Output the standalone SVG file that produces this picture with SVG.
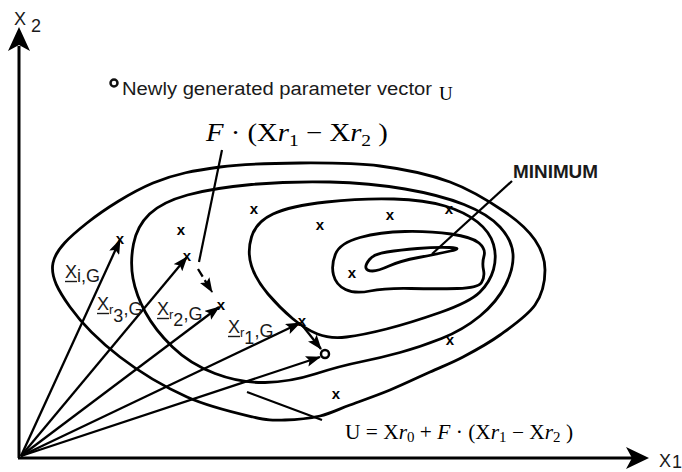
<svg xmlns="http://www.w3.org/2000/svg" width="682" height="472" viewBox="0 0 682 472">
<style>
.c{fill:none;stroke:#000;stroke-width:2.8;stroke-linejoin:round}
.a{fill:none;stroke:#000;stroke-width:2.3}
.ln{fill:none;stroke:#000;stroke-width:2.2}
.ax{fill:none;stroke:#000;stroke-width:3}
.hd{fill:#000}
.lbl{font-family:"Liberation Sans",Arial,sans-serif;font-size:18px;fill:#1a1a1a}
.ul{stroke:#1a1a1a;stroke-width:1.4}
.xm{font-family:"Liberation Sans",Arial,sans-serif;font-size:15px;font-weight:bold;fill:#000;text-anchor:middle}
.math{font-family:"Liberation Serif","Times New Roman",serif;fill:#000}
</style>
<defs>
<marker id="ah" markerWidth="15" markerHeight="11" refX="14" refY="5.5" orient="auto" markerUnits="userSpaceOnUse"><path d="M0,0 L15,5.5 L0,11 L3,5.5 z" fill="#000"/></marker>
</defs>

<g id="axes">
<path class="ax" d="M19,458 V46"/>
<polygon class="hd" points="19,27 8,51 19,45 30,51"/>
<path class="ax" d="M18,458 H632"/>
<polygon class="hd" points="649,458 626,447 632,458 626,469"/>
<text class="lbl" x="14" y="25" fill="#333">X</text>
<text class="lbl" x="31" y="32" font-size="17" fill="#333">2</text>
<text class="lbl" x="659" y="467" font-size="17" fill="#333">X</text>
<text class="lbl" x="672" y="468" font-size="12" fill="#333">1</text>
</g>

<g id="contours">
<path id="c5" class="c" d="M53,263 C55.8,249 70.3,236.3 87,223 S130.8,192.3 153,183 S195.5,170.3 220,167 S273.3,163.2 300,163 S355,162.8 380,166 S429.2,174.3 450,182 S490.8,202.3 505,212 S528.3,230.3 535,240 S545,259.2 545,270 S542.5,294.2 535,305 S512,326.3 500,335 S474.7,350.8 463,357 S442.2,366.5 430,372 S403.3,384.5 390,390 S361.7,400.7 350,405 S330.8,413.5 320,416 S296.2,419.8 285,420 S269.3,420.8 253,417 S209.2,407 187,397 S139.5,372 120,357 S81.2,322.7 70,307 S50.2,277 53,263 Z"/>
<path id="c4" class="c" d="M133,278.5 Q130,262 133.5,244 Q137,226 149.5,214 Q162,202 187.5,195 Q213,188 251.5,184.5 Q290,181 330,182 Q370,183 405,189 Q440,195 464,204.5 Q488,214 500,227 Q512,240 513,254 Q514,268 505.5,285 Q497,302 480,316 Q463,330 441.5,338.5 Q420,347 400,352.5 Q380,358 360,362 Q340,366 315,374 Q290,382 265,382.5 Q240,383 215,373.5 Q190,364 172.5,347 Q155,330 145.5,312.5 Q136,295 133,278.5 Z"/>
<path id="c3" class="c" d="M251.5,266 Q247,252 251.5,237 Q256,222 273,214 Q290,206 326.5,202 Q363,198 394,199 Q425,200 445,206 Q465,212 477.5,222 Q490,232 493.5,244.5 Q497,257 493.5,269.5 Q490,282 480,292 Q470,302 440,312.5 Q410,323 386.5,329 Q363,335 346.5,337 Q330,339 317.5,334 Q305,329 292.5,318.5 Q280,308 268,294 Q256,280 251.5,266 Z"/>
<path id="c2" class="c" d="M333.5,275 Q331,265 335.5,254 Q340,243 360,237.5 Q380,232 405,231.5 Q430,231 451,234 Q472,237 479,243 Q486,249 484,256 Q482,263 483.5,270 Q485,277 481.5,282.5 Q478,288 457.5,288.5 Q437,289 411,288.5 Q385,288 370,291 Q355,294 345.5,289.5 Q336,285 333.5,275 Z"/>
<path id="c1" class="c" d="M366,268 Q365,265 369.5,259.5 Q374,254 387,252 Q400,250 417.5,248.5 Q435,247 449.5,247.5 Q464,248 450.5,251 Q437,254 418.5,257.5 Q400,261 389,266 Q378,271 372.5,271 Q367,271 366,268 Z"/>
</g>

<g id="connectors">
<path class="a" d="M21,456 L120,240" marker-end="url(#ah)"/>
<path class="a" d="M21,456 L187,257" marker-end="url(#ah)"/>
<path class="a" d="M21,456 L219,307" marker-end="url(#ah)"/>
<path class="a" d="M21,456 L300,323" marker-end="url(#ah)"/>
<path class="a" d="M21,456 L320,357" marker-end="url(#ah)"/>
<path class="a" d="M302,325 L321,349" marker-end="url(#ah)"/>
<path class="a" d="M198,269 L212,292" stroke-dasharray="9,4" marker-end="url(#ah)"/>
<path class="ln" d="M222,150 L199,262"/>
<path class="ln" d="M512,181 L432,254"/>
<path class="ln" d="M247,392 L322,420"/>
</g>

<g id="points">
<text class="xm" x="120" y="244">x</text>
<text class="xm" x="187" y="261">x</text>
<text class="xm" x="221" y="310">x</text>
<text class="xm" x="302" y="326">x</text>
<circle cx="325" cy="354" r="4" fill="#fff" stroke="#000" stroke-width="2.5"/>
<text class="xm" x="181" y="235">x</text>
<text class="xm" x="254" y="214">x</text>
<text class="xm" x="320" y="230">x</text>
<text class="xm" x="390" y="220">x</text>
<text class="xm" x="449" y="214" font-size="11">x</text>
<text class="xm" x="352" y="278">x</text>
<text class="xm" x="450" y="345">x</text>
<text class="xm" x="336" y="399">x</text>
</g>

<g id="labels">
<text class="lbl" x="65" y="278">X<tspan dy="4">i,G</tspan></text>
<line class="ul" x1="65" y1="281.5" x2="77" y2="281.5"/>
<text class="lbl" x="97" y="310">X<tspan dy="4" font-size="13">r</tspan><tspan dy="8">3</tspan><tspan dy="-7">,G</tspan></text>
<line class="ul" x1="97" y1="313.5" x2="109" y2="313.5"/>
<text class="lbl" x="157" y="315">X<tspan dy="4" font-size="13">r</tspan><tspan dy="7">2</tspan><tspan dy="-6">,G</tspan></text>
<line class="ul" x1="157" y1="318.5" x2="169" y2="318.5"/>
<text class="lbl" x="228" y="333">X<tspan dy="4" font-size="13">r</tspan><tspan dy="7">1</tspan><tspan dy="-7">,G</tspan></text>
<line class="ul" x1="228" y1="336.5" x2="240" y2="336.5"/>
<text x="513" y="178" font-family="Liberation Sans,Arial,sans-serif" font-weight="bold" font-size="18" fill="#1a1a1a" textLength="85" lengthAdjust="spacingAndGlyphs">MINIMUM</text>
</g>

<g id="legend">
<circle cx="114" cy="83" r="3.5" fill="#fff" stroke="#111" stroke-width="2.5"/>
<text class="lbl" x="122" y="95" font-size="19" fill="#222" textLength="310" lengthAdjust="spacingAndGlyphs">Newly generated parameter vector</text>
<text class="math" x="439" y="100" font-size="19" fill="#222">U</text>
</g>

<g id="formulas">
<text class="math" font-size="25" transform="translate(206,141) scale(1.15,1)"><tspan font-style="italic">F</tspan> · (X<tspan font-style="italic">r</tspan><tspan font-size="17" dy="5">1</tspan><tspan dy="-5"> − X</tspan><tspan font-style="italic">r</tspan><tspan font-size="17" dy="5">2</tspan><tspan dy="-5"> )</tspan></text>
<text class="math" font-size="20" transform="translate(345,439) scale(1.07,1)">U = X<tspan font-style="italic">r</tspan><tspan font-size="14" dy="3">0</tspan><tspan dy="-3"> + </tspan><tspan font-style="italic">F</tspan> · (X<tspan font-style="italic">r</tspan><tspan font-size="14" dy="3">1</tspan><tspan dy="-3"> − X</tspan><tspan font-style="italic">r</tspan><tspan font-size="14" dy="3">2</tspan><tspan dy="-3"> )</tspan></text>
</g>
</svg>
